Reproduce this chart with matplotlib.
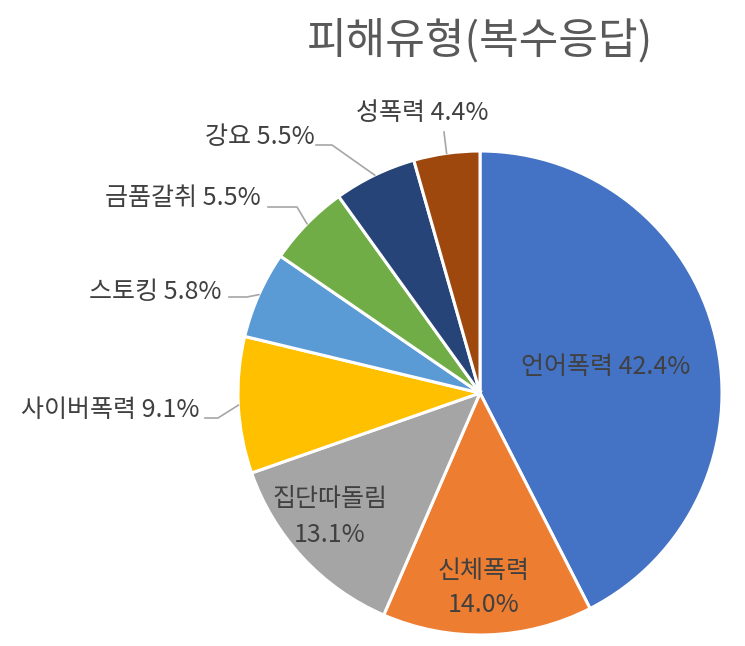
import numpy as np
import matplotlib.pyplot as plt

plt.rcParams['font.family'] = ['Noto Sans CJK KR', 'DejaVu Sans']

# data
categories = ['언어폭력', '신체폭력', '집단따돌림', '사이버폭력', '스토킹', '금품갈취', '강요', '성폭력']
values = [42.4, 14.0, 13.1, 9.1, 5.8, 5.5, 5.5, 4.4]
colors = ['#4472C4', '#ED7D31', '#A5A5A5', '#FFC000', '#5B9BD5', '#70AD47', '#264478', '#9E480E']

W, H = 745, 646
fig = plt.figure(figsize=(W / 100, H / 100), dpi=100)
ax = fig.add_axes([0, 0, 1, 1])

cx, cy, r = 480, H - 393, 242
wedges, _ = ax.pie(values, colors=colors, startangle=90, counterclock=False,
                   center=(cx, cy), radius=r, frame=True,
                   wedgeprops=dict(edgecolor='white', linewidth=2.2))
ax.set_xlim(0, W)
ax.set_ylim(0, H)
ax.set_aspect('equal')
ax.axis('off')

txt_color = '#404040'
fs = 18

# label layout (pixel positions, y from top); None = no leader line
label_pos = [(606, 367), (484, 588), (330, 517), (110, 410), (155, 292), (183, 198), (260, 137), (422, 113)]
label_sep = [' ', '\n', '\n', ' ', ' ', ' ', ' ', ' ']
leader = [None, None, None,
          [(218, 418), (205, 418)],
          [(247, 297), (229, 297)],
          [(297, 207), (268, 207)],
          [(332, 145), (316, 145)],
          [(444, 132)]]

for i, w in enumerate(wedges):
    x, y = label_pos[i]
    ax.text(x, H - y, categories[i] + label_sep[i] + f'{values[i]:.1f}%',
            ha='center', va='center', fontsize=fs, color=txt_color, linespacing=1.45)
    if leader[i] is not None:
        mid = np.deg2rad((w.theta1 + w.theta2) / 2)
        xs = [cx + r * np.cos(mid)] + [p[0] for p in leader[i]]
        ys = [cy + r * np.sin(mid)] + [H - p[1] for p in leader[i]]
        ax.plot(xs, ys, color='#A6A6A6', linewidth=1.2)

ax.text(480, H - 42, '피해유형(복수응답)', ha='center', va='center',
        fontsize=31, color='#595959')

fig.savefig('out.png', dpi=100)
